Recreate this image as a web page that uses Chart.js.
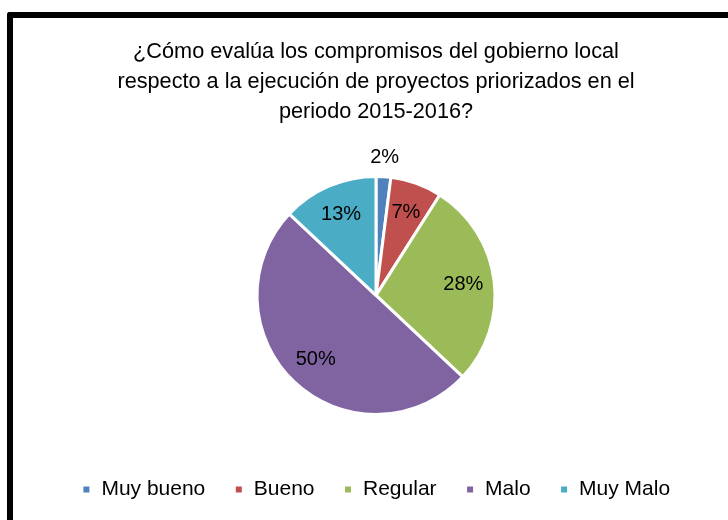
<!DOCTYPE html>
<html>
<head>
<meta charset="utf-8">
<script src="https://cdn.jsdelivr.net/npm/chart.js@4.4.1/dist/chart.umd.min.js"></script>
<style>
  html, body { margin: 0; padding: 0; background: #fff; overflow: hidden; }
  #frame {
    position: absolute; left: 7px; top: 12px;
    width: 740px; height: 540px;
    border-left: 6px solid #000; border-top: 6px solid #000;
    border-top-left-radius: 3px;
  }
  #wrap { position: absolute; left: 0; top: 0; width: 726px; height: 502px; }
</style>
</head>
<body>
<div id="frame"><div id="wrap"><canvas id="myChart"></canvas></div></div>
<script>
const categories = ['Muy bueno', 'Bueno', 'Regular', 'Malo', 'Muy Malo'];
const percentages = [2, 7, 28, 50, 13];
const sliceColors = ['#4F81BD', '#C0504D', '#9BBB59', '#8064A2', '#4BACC6'];
const titleLines = [
  '¿Cómo evalúa los compromisos del gobierno local',
  'respecto a la ejecución de proyectos priorizados en el',
  'periodo 2015-2016?'
];

const FONT = "'Liberation Sans', sans-serif";

// percent labels: inside the slice, small slices pushed outside
const sliceLabels = {
  id: 'sliceLabels',
  afterDatasetsDraw(chart) {
    const ctx = chart.ctx;
    const meta = chart.getDatasetMeta(0);
    ctx.save();
    ctx.font = '20px ' + FONT;
    ctx.fillStyle = '#000';
    ctx.textAlign = 'center';
    ctx.textBaseline = 'middle';
    meta.data.forEach((arc, i) => {
      const p = arc.getProps(['x', 'y', 'startAngle', 'endAngle', 'outerRadius'], true);
      const mid = (p.startAngle + p.endAngle) / 2;
      const k = percentages[i] < 5 ? 1.16 : 0.74;
      const r = p.outerRadius * k;
      ctx.fillText(percentages[i] + '%', p.x + Math.cos(mid) * r, p.y + Math.sin(mid) * r);
    });
    ctx.restore();
  }
};

new Chart('myChart', {
  type: 'pie',
  data: {
    labels: categories,
    datasets: [{
      data: percentages,
      backgroundColor: sliceColors,
      borderColor: '#fff',
      borderWidth: 3,
      hoverOffset: 0
    }]
  },
  options: {
    responsive: true,
    maintainAspectRatio: false,
    animation: false,
    radius: 119,
    layout: { padding: { top: 0, bottom: 10 } },
    plugins: {
      title: {
        display: true,
        text: titleLines,
        color: '#000',
        font: { family: FONT, size: 21.7, weight: 'normal', lineHeight: 1.38 },
        padding: { top: 19, bottom: 14 }
      },
      legend: {
        position: 'bottom',
        labels: {
          color: '#000',
          font: { family: FONT, size: 21 },
          boxWidth: 9,
          boxHeight: 9,
          padding: 29
        }
      },
      tooltip: { enabled: false }
    }
  },
  plugins: [sliceLabels]
});
</script>
</body>
</html>
